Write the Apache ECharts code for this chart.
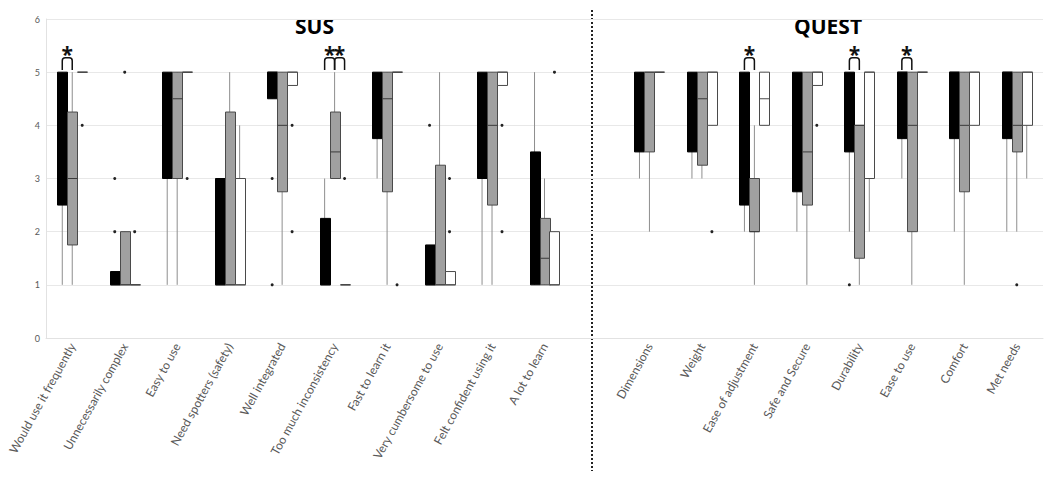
<!DOCTYPE html>
<html>
<head>
<meta charset="utf-8">
<script src="https://cdn.jsdelivr.net/npm/echarts@6/dist/echarts.min.js"></script>
<style>
html,body{margin:0;padding:0;background:#fff;}
#chart{width:1050px;height:477px;}
</style>
</head>
<body>
<div id="chart"></div>
<script>
// ---------- DATA ----------
const susCategories = ['Would use it frequently','Unnecessarily complex','Easy to use','Need spotters (safety)','Well integrated','Too much inconsistency','Fast to learn it','Very cumbersome to use','Felt confident using it','A lot to learn'];
const questCategories = ['Dimensions','Weight','Ease of adjustment','Safe and Secure','Durability','Ease to use','Comfort','Met needs'];
const yTicks = [0,1,2,3,4,5,6];

// box stats per category: [min, q1, median, q3, max]
const susBlack = [[1,2.5,4,5,5],[1,1,1,1.25,1.25],[1,3,4.5,5,5],[1,1,1,3,3],[4.5,4.5,5,5,5],[1,1,1,2.25,3],[3,3.75,4.5,5,5],[1,1,1,1.75,1.75],[1,3,4,5,5],[1,1,2,3.5,5]];
const susGray  = [[1,1.75,3,4.25,5],[1,1,1,2,2],[1,3,4.5,5,5],[1,1,1,4.25,5],[1,2.75,4,5,5],[3,3,3.5,4.25,5],[1,2.75,4.5,5,5],[1,1,1,3.25,5],[1,2.5,4,5,5],[1,1,1.5,2.25,3]];
const susWhite = [[5,5,5,5,5],[1,1,1,1,1],[5,5,5,5,5],[1,1,1,3,4],[4.75,4.75,5,5,5],[1,1,1,1,1],[5,5,5,5,5],[1,1,1,1.25,1.25],[4.75,4.75,5,5,5],[1,1,1,2,2]];
const questBlack = [[3,3.5,4,5,5],[3,3.5,4,5,5],[2,2.5,4,5,5],[2,2.75,4,5,5],[2,3.5,4,5,5],[3,3.75,5,5,5],[2,3.75,5,5,5],[2,3.75,5,5,5]];
const questGray  = [[2,3.5,5,5,5],[3,3.25,4.5,5,5],[1,2,2,3,4],[1,2.5,3.5,5,5],[1,1.5,4,4,4],[1,2,4,5,5],[1,2.75,4,5,5],[2,3.5,4,5,5]];
const questWhite = [[5,5,5,5,5],[4,4,5,5,5],[4,4,4.5,5,5],[4.75,4.75,5,5,5],[2,3,5,5,5],[5,5,5,5,5],[4,4,5,5,5],[3,4,5,5,5]];

// outliers per category
const susBlackOut = [[],[3,2],[],[],[3,1],[],[],[4],[],[]];
const susGrayOut  = [[],[5],[],[],[],[],[],[],[],[]];
const susWhiteOut = [[4],[2],[3],[],[4,2],[3],[1],[3,2],[4,2],[5]];
const questBlackOut = [[],[],[],[],[1],[],[],[]];
const questGrayOut  = [[],[],[],[],[],[],[],[1]];
const questWhiteOut = [[],[2],[],[4],[],[],[],[]];

// significance: [panel, category index within panel, group A, group B]
const significance = [['SUS',0,0,1],['SUS',5,0,1],['SUS',5,1,2],['QUEST',2,0,1],['QUEST',4,0,1],['QUEST',5,0,1]];

// ---------- BUILD ----------
const gapIndex = susCategories.length;
const categories = [...susCategories, '', ...questCategories];
const qOff = gapIndex + 1;

function boxData(sus, quest){
  const d = [];
  sus.forEach((s,i)=>d.push([i, ...s]));
  quest.forEach((s,i)=>d.push([qOff+i, ...s]));
  return d;
}
function outData(groups){
  const d = [];
  groups.forEach(([sus, quest], g)=>{
    sus.forEach((vals,i)=>vals.forEach(v=>d.push([i,g,v])));
    quest.forEach((vals,i)=>vals.forEach(v=>d.push([qOff+i,g,v])));
  });
  return d;
}
const sigData = significance.map(([p,i,a,b])=>[p==='SUS'?i:qOff+i,a,b]);

const BOXFRAC = 0.19;
function boxRender(g, fill, stroke, medColor){
  return function(params, api){
    const cat = api.value(0);
    const vals = [1,2,3,4,5].map(i=>api.value(i));
    const band = api.size([1,0])[0];
    const w = band*BOXFRAC;
    const cx = api.coord([cat,0])[0] + (g-1)*w;
    const y = v=>api.coord([cat,v])[1];
    const [mn,q1,md,q3,mx] = vals;
    const x0 = Math.round(cx - w/2)+0.5;
    return {type:'group', children:[
      {type:'line', shape:{x1:cx,y1:y(mn),x2:cx,y2:y(mx)}, style:{stroke:'#8e8e8e',lineWidth:1}},
      {type:'rect', shape:{x:x0,y:y(q3),width:Math.round(w),height:Math.max(y(q1)-y(q3),0)}, style:{fill:fill,stroke:stroke,lineWidth:q1===q3?1.5:1}},
      {type:'line', shape:{x1:x0,y1:y(md),x2:x0+Math.round(w),y2:y(md)}, style:{stroke:medColor,lineWidth:1}}
    ]};
  };
}
function outRender(params, api){
  const cat = api.value(0), g = api.value(1), v = api.value(2);
  const band = api.size([1,0])[0];
  const w = band*BOXFRAC;
  const p = api.coord([cat,v]);
  return {type:'circle', shape:{cx:p[0]+(g-1)*w, cy:p[1], r:1.5}, style:{fill:'#222'}};
}
function sigRender(params, api){
  const cat = api.value(0), a = api.value(1), b = api.value(2);
  const band = api.size([1,0])[0];
  const w = band*BOXFRAC;
  const c = api.coord([cat,0])[0];
  const xa = c+(a-1)*w, xb = c+(b-1)*w;
  const yb = api.coord([cat,5.04])[1], yt = api.coord([cat,5.27])[1];
  const r = 3;
  const path = `M${xa} ${yb} L${xa} ${yt+r} Q${xa} ${yt} ${xa+r} ${yt} L${xb-r} ${yt} Q${xb} ${yt} ${xb} ${yt+r} L${xb} ${yb}`;
  return {type:'group', children:[
    {type:'path', shape:{pathData:path}, style:{fill:'none',stroke:'#111',lineWidth:1.5}},
    {type:'text', style:{text:'*', x:(xa+xb)/2, y:yt+7, textAlign:'center', textVerticalAlign:'bottom', fontSize:21, fontWeight:'bold', fontFamily:'Open Sans', fill:'#111'}}
  ]};
}

const chart = echarts.init(document.getElementById('chart'), null, {renderer:'svg'});
const option = {
  animation:false,
  backgroundColor:'#fff',
  grid:{left:46, right:7, top:19, bottom:139},
  xAxis:{type:'category', data:categories, boundaryGap:true,
    axisLine:{show:true,lineStyle:{color:'#e2e2e2'}}, axisTick:{show:false},
    axisLabel:{interval:0, rotate:61, margin:6, fontSize:12, color:'#595959', fontFamily:'Lato'}},
  yAxis:{type:'value', min:yTicks[0], max:yTicks[yTicks.length-1], interval:1,
    axisLine:{show:true,lineStyle:{color:'#e2e2e2'}}, axisTick:{show:false},
    axisLabel:{fontSize:9, color:'#595959', margin:6, fontFamily:'Lato'},
    splitLine:{lineStyle:{color:'#e8e8e8'}}},
  series:[
    {type:'custom', renderItem:boxRender(0,'#000','#000','#000'), data:boxData(susBlack,questBlack), encode:{x:0,y:[1,2,3,4,5]}},
    {type:'custom', renderItem:boxRender(1,'#a0a0a0','#4a4a4a','#3a3a3a'), data:boxData(susGray,questGray), encode:{x:0,y:[1,2,3,4,5]}},
    {type:'custom', renderItem:boxRender(2,'#fff','#4a4a4a','#4a4a4a'), data:boxData(susWhite,questWhite), encode:{x:0,y:[1,2,3,4,5]}},
    {type:'custom', renderItem:outRender, data:outData([[susBlackOut,questBlackOut],[susGrayOut,questGrayOut],[susWhiteOut,questWhiteOut]]), encode:{x:0,y:2}},
    {type:'custom', renderItem:sigRender, data:sigData, encode:{x:0}}
  ],
  graphic:[
    {type:'line', shape:{x1:592,y1:10,x2:592,y2:471}, style:{stroke:'#222',lineWidth:2,lineDash:[2,2]}},
    {type:'text', left:295, top:15, style:{text:'SUS', fontSize:21, fontWeight:'bold', fontFamily:'Open Sans', fill:'#000'}},
    {type:'text', left:794, top:15, style:{text:'QUEST', fontSize:21, fontWeight:'bold', fontFamily:'Open Sans', fill:'#000'}}
  ]
};
chart.setOption(option);
</script>
</body>
</html>
